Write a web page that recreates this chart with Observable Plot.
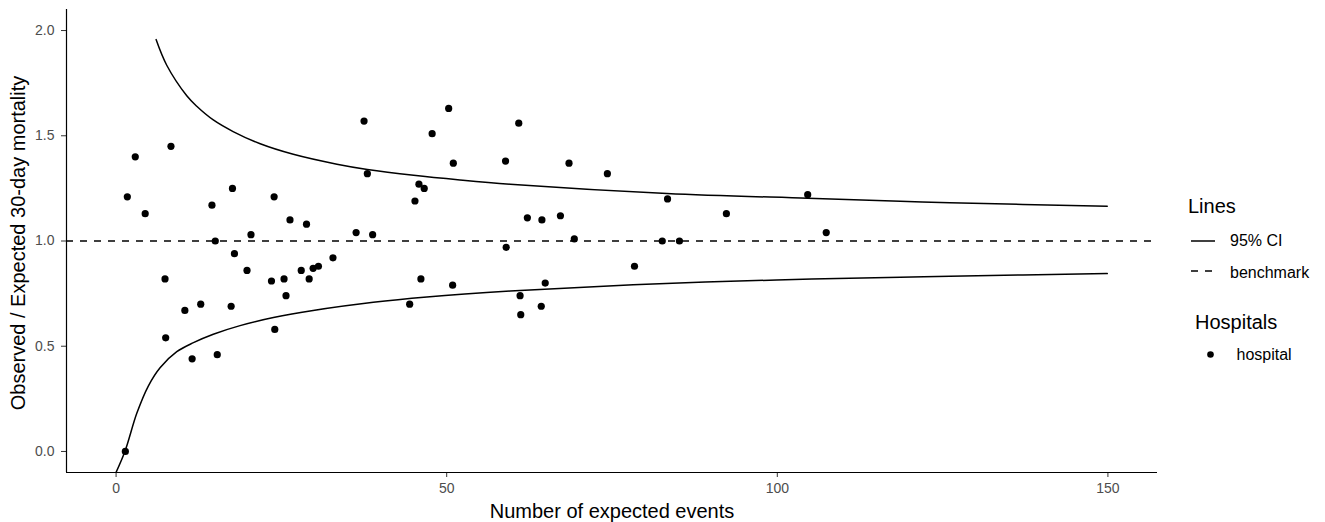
<!DOCTYPE html>
<html><head><meta charset="utf-8">
<script src="https://cdn.jsdelivr.net/npm/d3@7"></script>
<script src="https://cdn.jsdelivr.net/npm/@observablehq/plot@0.6"></script>
<style>
body{margin:0;background:#fff;}
#wrap{position:relative;width:1325px;height:522px;font-family:"Liberation Sans",Arial,sans-serif;}
#legend{position:absolute;left:0;top:0;pointer-events:none;}
</style></head><body><div id="wrap"></div>
<script>
// Hospitals: expected events (x) and observed/expected ratio (y)
const hospitalX = [1.4,1.7,2.9,4.4,7.4,7.5,8.3,10.4,11.5,12.8,14.5,15.0,15.3,17.4,17.6,17.9,19.8,20.4,23.5,23.9,24.0,25.4,25.7,26.3,28.0,28.8,29.2,29.8,30.6,32.8,36.3,37.5,38.0,38.8,44.4,45.2,45.8,46.1,46.6,47.8,50.3,51.0,50.9,58.9,59.0,60.9,61.1,61.2,62.2,64.3,64.4,64.9,67.2,68.5,69.3,74.3,78.4,82.6,83.4,85.2,92.3,104.6,107.4];
const hospitalY = [0.00,1.21,1.40,1.13,0.82,0.54,1.45,0.67,0.44,0.70,1.17,1.00,0.46,0.69,1.25,0.94,0.86,1.03,0.81,1.21,0.58,0.82,0.74,1.10,0.86,1.08,0.82,0.87,0.88,0.92,1.04,1.57,1.32,1.03,0.70,1.19,1.27,0.82,1.25,1.51,1.63,1.37,0.79,1.38,0.97,1.56,0.74,0.65,1.11,0.69,1.10,0.80,1.12,1.37,1.01,1.32,0.88,1.00,1.20,1.00,1.13,1.22,1.04];
// 95% CI limits
const upperX = [6.05,7.66,10.69,12.2,14.7,17.7,21.8,26.8,33.4,38.0,45.0,52.0,59.6,83.3,104.6,118.6,126.1,149.9];
const upperY = [1.957,1.835,1.690,1.640,1.575,1.520,1.462,1.412,1.365,1.340,1.312,1.290,1.270,1.226,1.203,1.189,1.182,1.165];
const lowerX = [0,1.36,3.13,4.89,6.65,9.18,11.7,14.7,18.75,23.8,29.8,38.9,47.0,59.6,78.2,99.9,118.6,126.1,149.9];
const lowerY = [-0.099,0.002,0.181,0.312,0.398,0.474,0.517,0.557,0.598,0.636,0.670,0.709,0.734,0.762,0.792,0.815,0.828,0.833,0.845];
const benchmark = [1];
const xTicks = [0,50,100,150];
const yTicks = [0,0.5,1,1.5,2];
const xDomain = [-7.5,157.5];
const yDomain = [-0.1,2.1];

const hospitals = hospitalX.map((x,i)=>({x, y: hospitalY[i]}));
const upper = upperX.map((x,i)=>({x, y: upperY[i]}));
const lower = lowerX.map((x,i)=>({x, y: lowerY[i]}));

const font = "Liberation Sans, Arial, sans-serif";
const plot = Plot.plot({
  width:1325, height:522, marginLeft:66, marginRight:168, marginTop:9, marginBottom:50,
  style:{fontFamily:font, fontSize:"14px", background:"#fff", color:"#000"},
  x:{domain:xDomain},
  y:{domain:yDomain},
  marks:[
    Plot.ruleY(benchmark, {stroke:"#000", strokeWidth:1.5, strokeDasharray:"7,7"}),
    Plot.line(upper, {x:"x", y:"y", curve:"catmull-rom", stroke:"#000", strokeWidth:1.5, clip:true}),
    Plot.line(lower, {x:"x", y:"y", curve:"catmull-rom", stroke:"#000", strokeWidth:1.5, clip:true}),
    Plot.dot(hospitals, {x:"x", y:"y", r:3.6, fill:"#000", stroke:null}),
    Plot.axisX({ticks:xTicks, tickSize:5, tickPadding:6, stroke:"#333", fill:"#4d4d4d", fontSize:14, label:null}),
    Plot.axisY({ticks:yTicks, tickFormat:".1f", tickSize:5, tickPadding:7, stroke:"#333", fill:"#4d4d4d", fontSize:14, label:null}),
    Plot.ruleX([xDomain[0]], {stroke:"#000", strokeWidth:1.2}),
    Plot.ruleY([yDomain[0]], {stroke:"#000", strokeWidth:1.2}),
    Plot.text(["Number of expected events"], {frameAnchor:"bottom", lineAnchor:"middle", textAnchor:"middle", dy:39.5, fontSize:20, fill:"#000", style:{letterSpacing:"0.25px"}}),
    Plot.text(["Observed / Expected 30-day mortality"], {frameAnchor:"left", textAnchor:"middle", lineAnchor:"middle", dx:-47.5, dy:2, rotate:-90, fontSize:20, fill:"#000", style:{letterSpacing:"0.7px"}})
  ]
});
const wrap = document.getElementById("wrap");
wrap.appendChild(plot);

// legend
const svg = d3.select(wrap).append("svg").attr("id","legend").attr("width",1325).attr("height",522)
  .style("font-family", font);
svg.append("text").attr("x",1188).attr("y",212.5).attr("font-size",20).text("Lines");
svg.append("line").attr("x1",1191).attr("x2",1215).attr("y1",241).attr("y2",241).attr("stroke","#000").attr("stroke-width",1.5);
svg.append("text").attr("x",1230).attr("y",245.5).attr("font-size",16).text("95% CI");
svg.append("line").attr("x1",1191).attr("x2",1215).attr("y1",271).attr("y2",271).attr("stroke","#000").attr("stroke-width",1.5).attr("stroke-dasharray","7,7");
svg.append("text").attr("x",1230).attr("y",278).attr("font-size",16).text("benchmark");
svg.append("text").attr("x",1195).attr("y",328.5).attr("font-size",20).text("Hospitals");
svg.append("circle").attr("cx",1210.5).attr("cy",354.5).attr("r",3.3).attr("fill","#000");
svg.append("text").attr("x",1236.5).attr("y",359.5).attr("font-size",16).text("hospital");
</script></body></html>
